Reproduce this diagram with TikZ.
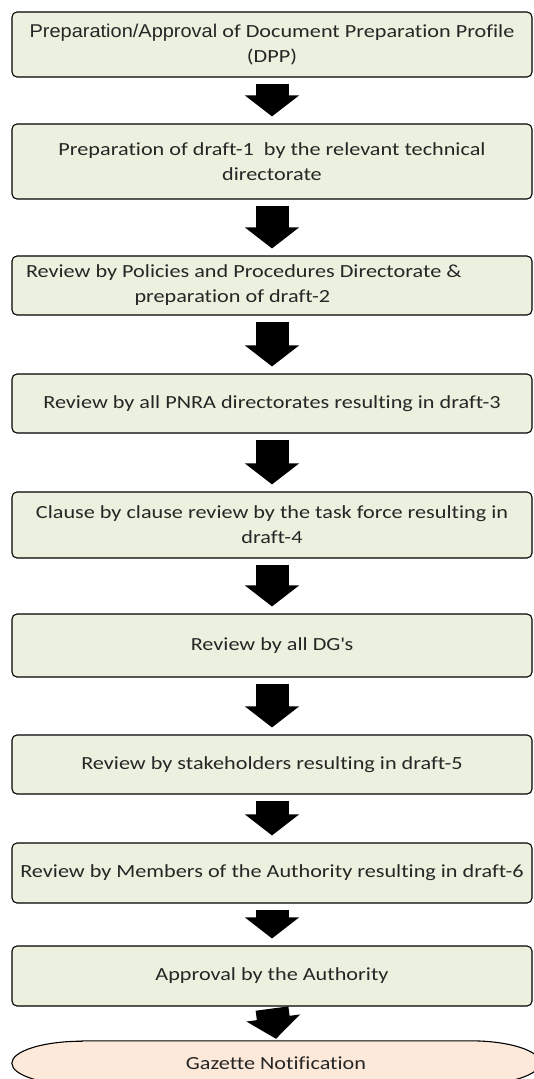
\documentclass[tikz,border=0pt]{standalone}
\usepackage{fontspec}
\setmainfont{Carlito}[FakeStretch=1.2, Ligatures={NoCommon}]
\newfontfamily\arialfont{Liberation Sans}[FakeStretch=1.08]
\usetikzlibrary{arrows.meta,backgrounds}
\definecolor{boxfill}{RGB}{235,241,222}
\definecolor{gazettefill}{RGB}{253,233,217}
\definecolor{boxtext}{RGB}{38,38,38}
\begin{document}
\begin{tikzpicture}[x=1pt, y=-1pt,
        font=\fontsize{18.5}{25}\selectfont,
        stepbox/.style={draw, line width=1.1pt, rounded corners=5pt, fill=boxfill,
            text=boxtext, align=center, minimum width=520pt, inner sep=0pt},
        fatarrow/.style={line width=33pt, -{Triangle[width=53pt, length=21pt]}}]
        \useasboundingbox (0,0) rectangle (533,1079);

        \node[stepbox, minimum height=65pt] (dpp) at (272,44.5)
            {{\arialfont Preparation/Approval} of Document Preparation Profile\\(DPP)};
        \node[stepbox, minimum height=75pt] (draft1) at (272,161.5)
            {Preparation of draft-1\ \ by the relevant technical\\directorate};
        \node[stepbox, minimum height=59pt] (draft2) at (272,285.5)
            {\makebox[492pt][l]{Review by Policies and Procedures Directorate \&}\\
             \makebox[275pt][l]{preparation of draft-2}};
        \node[stepbox, minimum height=59pt] (draft3) at (272,403.5)
            {Review by all PNRA directorates resulting in draft-3};
        \node[stepbox, minimum height=66pt] (draft4) at (272,525)
            {Clause by clause review by the task force resulting in\\draft-4};
        \node[stepbox, minimum height=63pt] (dgs) at (272,645.5)
            {Review by all DG\textquotesingle s};
        \node[stepbox, minimum height=59pt] (draft5) at (272,764.5)
            {Review by stakeholders resulting in draft-5};
        \node[stepbox, minimum height=60pt] (draft6) at (272,873)
            {Review by Members of the Authority resulting in draft-6};
        \node[stepbox, minimum height=60pt] (approval) at (272,976)
            {Approval by the Authority};
        \node[text=boxtext, minimum width=528pt, minimum height=44pt, inner sep=0pt] (gazette) at (276,1063)
            {Gazette Notification};
        \begin{scope}[on background layer]
            \draw[line width=1.1pt, fill=gazettefill] ([xshift=70pt]gazette.north west) -- ([xshift=-70pt]gazette.north east)
                arc[start angle=90, end angle=-90, x radius=70pt, y radius=22pt]
                -- ([xshift=70pt]gazette.south west)
                arc[start angle=270, end angle=90, x radius=70pt, y radius=22pt] -- cycle;
        \end{scope}

        \draw[fatarrow] ([yshift=-6pt]dpp.south) -- ([yshift=7pt]draft1.north);
        \draw[fatarrow] ([yshift=-6pt]draft1.south) -- ([yshift=7pt]draft2.north);
        \draw[fatarrow] ([yshift=-6pt]draft2.south) -- ([yshift=7pt]draft3.north);
        \draw[fatarrow] ([yshift=-6pt]draft3.south) -- ([yshift=7pt]draft4.north);
        \draw[fatarrow] ([yshift=-6pt]draft4.south) -- ([yshift=7pt]dgs.north);
        \draw[fatarrow] ([yshift=-6pt]dgs.south) -- ([yshift=7pt]draft5.north);
        \draw[fatarrow] ([yshift=-6pt]draft5.south) -- ([yshift=7pt]draft6.north);
        \draw[fatarrow] ([yshift=-6pt]draft6.south) -- ([yshift=7pt]approval.north);
        \draw[fatarrow] ([yshift=-2pt]approval.south) -- ([yshift=2pt]gazette.north);
    \end{tikzpicture}
\end{document}
